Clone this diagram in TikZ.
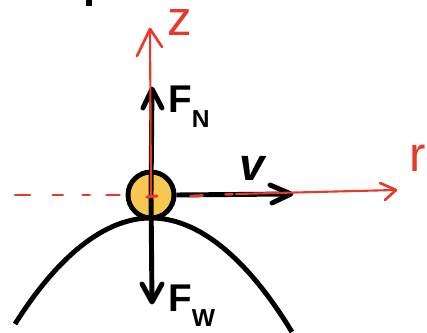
\documentclass[tikz,border=0pt]{standalone}
\usepackage{fontspec}
\setmainfont{Liberation Sans}
\usetikzlibrary{arrows.meta,positioning}

\definecolor{ballfill}{RGB}{247,200,80}
\definecolor{penred}{RGB}{232,57,42}

\newcommand{\forcesub}[2]{\textbf{#1}\raisebox{-0.38em}{\fontsize{14}{14}\selectfont\textbf{#2}}}

\begin{document}
\begin{tikzpicture}[
  x=0.02cm, y=-0.02cm,
  every node/.style={inner sep=0pt, font=\fontsize{22}{22}\selectfont\bfseries},
  ball/.style={circle, draw=black, line width=2.8pt, fill=ballfill, minimum size=0.92cm},
  force/.style={line width=2.8pt},
  head/.style={line width=2.8pt, line cap=round, line join=round},
  hill/.style={line width=2.8pt},
  axis/.style={penred, line width=1.2pt, line cap=round},
  axishead/.style={axis, line width=1.5pt, line join=round},
  handlbl/.style={text=penred, font=\fontsize{28}{28}\selectfont, text height=1.1ex}
]
\useasboundingbox (0,0) rectangle (427,333);

% --- hill and cut-off glyph ---
\draw[hill] (15,324) parabola bend (151,218) (292,332);
\fill (86,0) rectangle (92,6);

% --- ball ---
\node[ball] (ball) at (151,195) {};

% --- free ends ---
\coordinate (ntip) at (152,89);
\coordinate (wtip) at (152,302);
\coordinate (vtip) at (291,194);
\coordinate (ztip) at (150,29);
\coordinate (rtip) at (396,190);
\coordinate (rfar) at (15,195);
\coordinate (rmid) at (236,194);

% --- forces ---
\draw[force] (ball.center) -- (ntip);
\draw[force] (ball.center) -- (wtip);
\draw[force] (ball.east) -- (vtip);
\draw[head] ([shift={(-9,19)}]ntip) -- (ntip) -- ([shift={(10,19)}]ntip);
\draw[head] ([shift={(-10,-18)}]wtip) -- (wtip) -- ([shift={(10,-18)}]wtip);
\draw[head] ([shift={(-21,-9)}]vtip) -- (vtip) -- ([shift={(-19,9)}]vtip);

\node[anchor=north west] (fn) at (168,86) {\forcesub{F}{N}};
\node[anchor=north west] (fw) at (168,285) {\forcesub{F}{W}};
\node[anchor=south, font=\fontsize{26}{26}\selectfont\bfseries\itshape] (v) at (252,181) {v};

% --- hand drawn axes ---
\draw[axis] (ball.center) -- (ztip);
\draw[axishead] ([shift={(-13,27)}]ztip) -- (ztip) -- ([shift={(12,18)}]ztip);
\draw[axis, line width=1.5pt, dash pattern=on 8.5pt off 13pt on 5.7pt off 11.3pt on 4pt off 9.6pt on 7.4pt off 40pt]
  (rfar) -- (ball.west);
\draw[axis, line width=1.5pt, dash pattern=on 7pt off 13pt on 4pt off 20pt] (ball.east) ++(14,1) -- (rmid);
\draw[axis] (rmid) -- (rtip);
\draw[axishead] ([shift={(-16,-7)}]rtip) -- (rtip) -- ([shift={(-11,10)}]rtip);
\draw[axis, line width=1.8pt] (147,197) -- (157,196);

\node[handlbl, anchor=base west] (zlbl) at (167,36) {z};
\node[handlbl, anchor=base west] (rlbl) at (409,172) {r};
\end{tikzpicture}
\end{document}
